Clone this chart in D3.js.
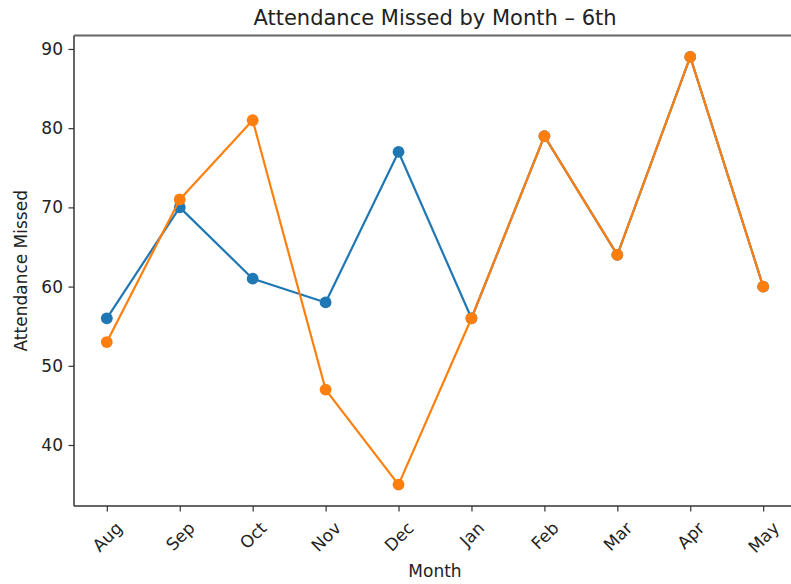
<!DOCTYPE html>
<html><head><meta charset="utf-8">
<script src="https://cdn.jsdelivr.net/npm/d3@7"></script>
<style>html,body{margin:0;background:#fff;overflow:hidden}svg{display:block}text{font-family:"DejaVu Sans",sans-serif;fill:#222}</style>
</head><body><svg id="c" width="791" height="584"></svg>
<script>
const months = ["Aug","Sep","Oct","Nov","Dec","Jan","Feb","Mar","Apr","May"];
const seriesA = [56,70,61,58,77,56,79,64,89,60];
const seriesB = [53,71,81,47,35,56,79,64,89,60];
const yTicks = [40,50,60,70,80,90];
const title = "Attendance Missed by Month – 6th";
const xLabel = "Month";
const yLabel = "Attendance Missed";
const colors = ["#1f77b4","#ff7f0e"];

const svg = d3.select("#c");
const W = 791;
const L = 74, R = 796, T = 35.5, B = 506;
const FS = 17;
const x = d3.scalePoint().domain(months).range([L, R]).padding(0.45);
const y = d3.scaleLinear().domain([32.3, 91.7]).range([B, T]);

// spines (right spine falls outside the picture)
svg.append("line").attr("x1",L).attr("x2",L).attr("y1",T).attr("y2",B).attr("stroke","#333").attr("stroke-width",1.5);
svg.append("line").attr("x1",L).attr("x2",W).attr("y1",B).attr("y2",B).attr("stroke","#333").attr("stroke-width",1.5);
svg.append("line").attr("x1",L).attr("x2",W).attr("y1",T).attr("y2",T).attr("stroke","#666").attr("stroke-width",1.8);

// y axis
const yAxis = d3.axisLeft(y).tickValues(yTicks).tickSize(5.5).tickPadding(5.5);
const gy = svg.append("g").attr("transform",`translate(${L},0)`).call(yAxis);
gy.select(".domain").remove();
gy.selectAll("line").attr("stroke","#333").attr("stroke-width",1.2);
gy.selectAll("text").style("font-size",FS+"px").attr("fill","#222").attr("font-family",null);

// x axis
const xAxis = d3.axisBottom(x).tickSize(5.5).tickFormat(d=>"");
const gx = svg.append("g").attr("transform",`translate(0,${B})`).call(xAxis);
gx.select(".domain").remove();
gx.selectAll("line").attr("stroke","#333").attr("stroke-width",1.2);
gx.selectAll("g.tick").each(function(d){
  const g = d3.select(this);
  const t = g.append("text").text(d).style("font-size",FS+"px").attr("fill","#222")
    .attr("text-anchor","middle").attr("dominant-baseline","central");
  const w = t.node().getComputedTextLength();
  const h = 1.16 * FS;
  const half = (w + h) / Math.SQRT2 / 2;
  const cy = 12 + half;
  t.attr("transform",`translate(0,${cy}) rotate(-45)`);
});

// lines
const line = d3.line().x((d,i)=>x(months[i])).y(d=>y(d));
[seriesA, seriesB].forEach((s,k)=>{
  svg.append("path").datum(s).attr("d",line).attr("fill","none").attr("stroke",colors[k]).attr("stroke-width",2.2).attr("stroke-linejoin","round");
  svg.append("g").selectAll("circle").data(s).join("circle")
    .attr("cx",(d,i)=>x(months[i])).attr("cy",d=>y(d)).attr("r",5.9).attr("fill",colors[k]);
});

// labels
svg.append("text").attr("x",(L+R)/2).attr("y",25).attr("text-anchor","middle").style("font-size","21px").text(title);
svg.append("text").attr("x",(L+R)/2).attr("y",577).attr("text-anchor","middle").style("font-size",FS+"px").text(xLabel);
svg.append("text").attr("transform",`translate(27,${(T+B)/2}) rotate(-90)`).attr("text-anchor","middle").style("font-size",FS+"px").text(yLabel);
</script></body></html>
